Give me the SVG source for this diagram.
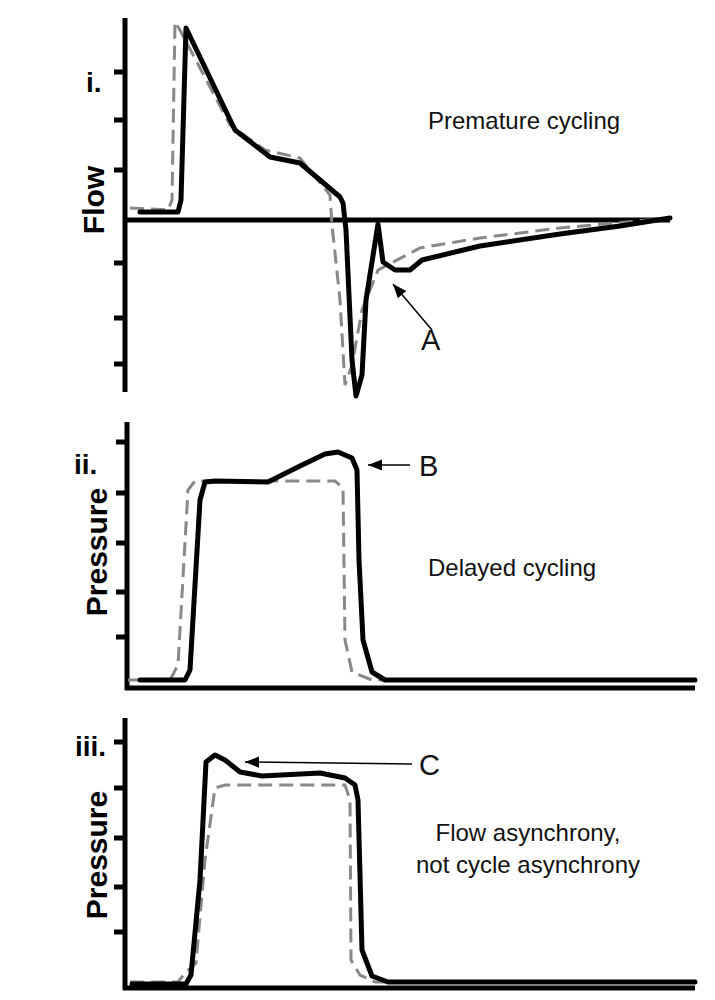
<svg xmlns="http://www.w3.org/2000/svg" width="715" height="1000" viewBox="0 0 715 1000">
<style>
.ax{stroke:#000;stroke-width:5;fill:none}
.s{stroke:#000;stroke-width:5;fill:none;stroke-linejoin:round;stroke-linecap:round}
.d{stroke:#888;stroke-width:3;fill:none;stroke-dasharray:14 7}
.a{stroke:#000;stroke-width:1.5;fill:none}
.t{font-family:"Liberation Sans",Arial,sans-serif;font-size:24px;fill:#111}
.L{font-family:"Liberation Sans",Arial,sans-serif;font-size:29px;fill:#111}
.b{font-family:"Liberation Sans",Arial,sans-serif;font-weight:bold;fill:#000}
</style>
<defs><marker id="m2" viewBox="0 0 10 10" refX="10" refY="5" markerWidth="14" markerHeight="14" markerUnits="userSpaceOnUse" orient="auto"><path d="M0,1L10,5L0,9z" fill="#000"/></marker></defs>
<g id="panel-i">
<path class="ax" d="M125,18V392M125,220H670M114,72H125M114,120H125M114,170H125M114,263H125M114,318H125M114,364H125"/>
<path class="d" d="M130,208L168,210L172,200L175,22L180,30L230,125L265,150L300,158L330,195L332,225L340,300L345,385L352,365L362,310L378,270L420,248L480,238L560,228L670,218"/>
<path class="s" d="M140,212L178,212L181,200L186,28L235,130L270,157L300,163L340,197L343,203L346,230L352,360L356,396L362,375L366,300L378,224L383,262L395,270L410,270L422,260L480,246L560,234L620,226L670,218"/>
<text class="b" font-size="28" x="86" y="92">i.</text>
<text class="b" font-size="30" transform="translate(104,200) rotate(-90)" text-anchor="middle">Flow</text>
<text class="t" x="428" y="129">Premature cycling</text>
<path class="a" d="M432,330L393,284" marker-end="url(#m2)"/>
<text class="L" x="421" y="350">A</text>
</g>
<g id="panel-ii">
<path class="ax" d="M127,422V690M125,688H695M116,442H127M116,493H127M116,543H127M116,592H127M116,637H127"/>
<path class="d" d="M128,680L170,680L178,665L188,490L195,481L335,481L343,488L345,640L352,672L372,680L695,680"/>
<path class="s" d="M140,680L185,680L190,670L200,500L205,482L215,481L268,482L300,466L325,454L338,452L352,458L357,470L359,560L363,640L372,672L385,680L695,680"/>
<text class="b" font-size="28" x="74" y="474">ii.</text>
<text class="b" font-size="30" transform="translate(107,552) rotate(-90)" text-anchor="middle">Pressure</text>
<text class="t" x="428" y="576">Delayed cycling</text>
<path class="a" d="M410,465L368,465" marker-end="url(#m2)"/>
<text class="L" x="419" y="476">B</text>
</g>
<g id="panel-iii">
<path class="ax" d="M125,718V990M123,988H695M114,742H125M114,788H125M114,838H125M114,887H125M114,932H125"/>
<path class="d" d="M130,982L178,982L186,972L196,963L205,860L215,788L225,785L345,785L350,800L351,960L360,975L375,982L695,982"/>
<path class="s" d="M132,984L186,984L191,975L200,880L206,762L215,755L225,760L240,772L262,776L320,773L345,778L355,785L358,800L362,950L372,976L388,982L695,982"/>
<text class="b" font-size="28" x="75" y="756">iii.</text>
<text class="b" font-size="30" transform="translate(107,855) rotate(-90)" text-anchor="middle">Pressure</text>
<text class="t" x="528" y="841" text-anchor="middle">Flow asynchrony,</text>
<text class="t" x="528" y="873" text-anchor="middle">not cycle asynchrony</text>
<path class="a" d="M412,764L245,762" marker-end="url(#m2)"/>
<text class="L" x="419" y="775">C</text>
</g>
</svg>
